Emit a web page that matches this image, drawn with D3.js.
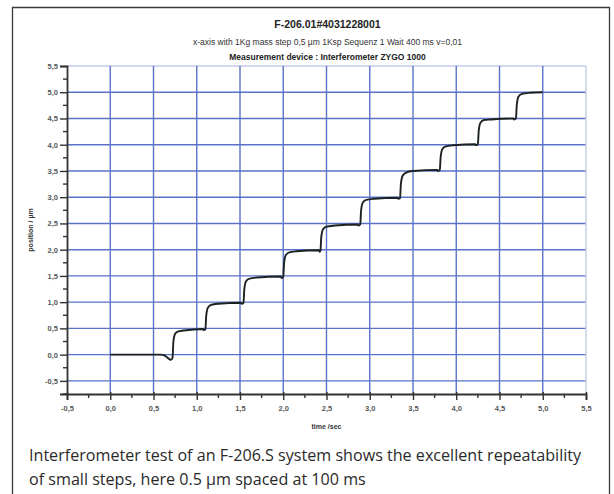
<!DOCTYPE html>
<html>
<head>
<meta charset="utf-8">
<script src="https://cdn.jsdelivr.net/npm/d3@7"></script>
<style>
  body { margin: 0; background: #fff; }
  svg { display: block; }
</style>
</head>
<body>
<svg id="chart"></svg>
<script>
const titleText = "F-206.01#4031228001"
const subtitleText = "x-axis with 1Kg mass step 0,5 µm 1Ksp Sequenz 1 Wait 400 ms v=0,01"
const deviceText = "Measurement device : Interferometer ZYGO 1000"
const captionLines = [
  "Interferometer test of an F-206.S system shows the excellent repeatability",
  "of small steps, here 0.5 µm spaced at 100 ms"
]

const xTicks = [-0.5, 0, 0.5, 1, 1.5, 2, 2.5, 3, 3.5, 4, 4.5, 5, 5.5]
const yTicks = [-0.5, 0, 0.5, 1, 1.5, 2, 2.5, 3, 3.5, 4, 4.5, 5, 5.5]

const timeSec = [
  0.00, 0.58, 0.63, 0.68, 0.70, 0.72, 0.73, 0.75, 0.78, 0.85,
  1.07, 1.08, 1.10, 1.11, 1.13, 1.17, 1.25,
  1.51, 1.52, 1.54, 1.55, 1.57, 1.61, 1.70,
  1.97, 1.98, 2.00, 2.01, 2.03, 2.07, 2.15,
  2.41, 2.42, 2.43, 2.44, 2.46, 2.50, 2.60,
  2.86, 2.87, 2.89, 2.90, 2.92, 2.96, 3.05,
  3.32, 3.33, 3.35, 3.36, 3.38, 3.42, 3.50,
  3.78, 3.79, 3.81, 3.82, 3.84, 3.88, 3.97,
  4.22, 4.23, 4.25, 4.26, 4.28, 4.32, 4.40,
  4.66, 4.67, 4.69, 4.70, 4.72, 4.76, 4.85, 5.00
]
const positionUm = [
  0.00, 0.00, -0.02, -0.08, -0.10, -0.06, 0.25, 0.40, 0.44, 0.46,
  0.49, 0.47, 0.48, 0.75, 0.90, 0.95, 0.97,
  0.99, 0.97, 0.98, 1.25, 1.40, 1.45, 1.47,
  1.49, 1.46, 1.48, 1.75, 1.90, 1.95, 1.97,
  1.99, 1.96, 1.98, 2.25, 2.39, 2.44, 2.46,
  2.48, 2.46, 2.48, 2.75, 2.90, 2.95, 2.97,
  2.99, 2.97, 2.98, 3.25, 3.41, 3.47, 3.50,
  3.52, 3.50, 3.52, 3.77, 3.92, 3.97, 3.99,
  4.01, 3.99, 4.01, 4.27, 4.42, 4.47, 4.48,
  4.50, 4.48, 4.50, 4.76, 4.92, 4.97, 4.99, 5.00
]

drawChart()

function drawChart() {
  const width = 614
  const height = 494
  const plot = { left: 67, right: 586, top: 66, bottom: 394 }
  const font = 'Arial, "Liberation Sans", sans-serif'

  const svg = d3.select('#chart')
    .attr('width', width)
    .attr('height', height)

  const fmt = v => d3.format('.1f')(v).replace('.', ',').replace('−', '-')

  const x = d3.scaleLinear().domain([-0.5, 5.5]).range([plot.left, plot.right])
  const y = d3.scaleLinear().domain([-0.75, 5.5]).range([plot.bottom, plot.top])

  // outer frame (open at the bottom)
  svg.append('path')
    .attr('d', `M12.5,${height + 2} V7.5 H609.5 V${height + 2}`)
    .attr('fill', 'none')
    .attr('stroke', '#3a3a3a')
    .attr('stroke-width', 1.3)

  // grid
  const grid = svg.append('g')
  grid.selectAll('line.h')
    .data(yTicks)
    .enter()
    .append('line')
    .attr('x1', plot.left)
    .attr('x2', plot.right)
    .attr('y1', d => y(d))
    .attr('y2', d => y(d))
    .attr('stroke', d => d === 5.5 ? '#c3cbe9' : '#5b72c9')
    .attr('stroke-width', 1.4)

  grid.selectAll('line.v')
    .data(xTicks.filter(d => d > -0.5))
    .enter()
    .append('line')
    .attr('x1', d => x(d))
    .attr('x2', d => x(d))
    .attr('y1', plot.top)
    .attr('y2', plot.bottom)
    .attr('stroke', d => d === 5.5 ? '#c3cbe9' : '#5b72c9')
    .attr('stroke-width', 1.4)

  // trace
  const pts = timeSec.map((t, i) => [t, positionUm[i]])
  const line = d3.line()
    .x(d => x(d[0]))
    .y(d => y(d[1]))
    .curve(d3.curveMonotoneX)

  svg.append('path')
    .datum(pts)
    .attr('d', line)
    .attr('fill', 'none')
    .attr('stroke', '#1c2222')
    .attr('stroke-width', 1.9)
    .attr('stroke-linejoin', 'round')

  // y axis
  const yMinor = d3.range(-0.75, 5.5, 0.25).filter(v => Math.abs(v * 2 - Math.round(v * 2)) > 0.01)
  const yAxis = svg.append('g')
    .attr('transform', `translate(${plot.left},0)`)
    .call(d3.axisLeft(y).tickValues(yTicks).tickFormat(fmt).tickSize(7).tickPadding(2))
  yAxis.select('.domain').attr('stroke', '#333').attr('stroke-width', 1.8)
  yAxis.selectAll('.tick line').attr('stroke', '#333').attr('stroke-width', 1.4)
  yAxis.selectAll('text')
    .attr('fill', '#555')
    .style('font-family', font)
    .style('font-size', '7.5px')
    .style('font-weight', 'bold')
  yAxis.selectAll('.minor')
    .data(yMinor)
    .enter()
    .append('line')
    .attr('x1', -4)
    .attr('x2', 0)
    .attr('y1', d => y(d))
    .attr('y2', d => y(d))
    .attr('stroke', '#333')
    .attr('stroke-width', 1.4)

  // x axis
  const xMinor = d3.range(-0.25, 5.5, 0.5)
  const xAxis = svg.append('g')
    .attr('transform', `translate(0,${plot.bottom})`)
    .call(d3.axisBottom(x).tickValues(xTicks).tickFormat(fmt).tickSize(6).tickPadding(6))
  xAxis.select('.domain').attr('stroke', '#333').attr('stroke-width', 1.8)
  xAxis.selectAll('.tick line').attr('stroke', '#333').attr('stroke-width', 1.4).attr('y1', -2)
  xAxis.selectAll('text')
    .attr('fill', '#555')
    .style('font-family', font)
    .style('font-size', '7.5px')
    .style('font-weight', 'bold')
  xAxis.selectAll('.minor')
    .data(xMinor)
    .enter()
    .append('line')
    .attr('x1', d => x(d))
    .attr('x2', d => x(d))
    .attr('y1', 0)
    .attr('y2', 4)
    .attr('stroke', '#333')
    .attr('stroke-width', 1.4)

  // axis titles
  svg.append('text')
    .attr('x', (plot.left + plot.right) / 2)
    .attr('y', 429)
    .attr('text-anchor', 'middle')
    .style('font-family', font)
    .style('font-size', '7px')
    .style('font-weight', 'bold')
    .attr('fill', '#333')
    .text('time /sec')

  svg.append('text')
    .attr('transform', 'translate(33,230) rotate(-90)')
    .attr('text-anchor', 'middle')
    .style('font-family', font)
    .style('font-size', '7px')
    .style('font-weight', 'bold')
    .attr('fill', '#333')
    .text('position / µm')

  // titles
  const cx = (plot.left + plot.right) / 2 + 1
  svg.append('text')
    .attr('x', cx).attr('y', 28)
    .attr('text-anchor', 'middle')
    .style('font-family', font)
    .style('font-size', '10.5px')
    .style('font-weight', 'bold')
    .attr('fill', '#222')
    .text(titleText)

  svg.append('text')
    .attr('x', cx).attr('y', 45)
    .attr('text-anchor', 'middle')
    .style('font-family', font)
    .style('font-size', '8.5px')
    .attr('fill', '#333')
    .text(subtitleText)

  svg.append('text')
    .attr('x', cx).attr('y', 59.5)
    .attr('text-anchor', 'middle')
    .style('font-family', font)
    .style('font-size', '8.5px')
    .style('font-weight', 'bold')
    .attr('fill', '#222')
    .text(deviceText)

  // caption, sized so the first line spans the box like the original
  const caption = svg.append('g')
    .selectAll('text')
    .data(captionLines)
    .enter()
    .append('text')
    .attr('x', 29)
    .attr('y', (d, i) => 461 + i * 24)
    .style('font-family', '"Open Sans", sans-serif')
    .style('font-size', '15px')
    .attr('fill', '#2a2a2a')
    .text(d => d)
  const w = caption.nodes()[0].getComputedTextLength()
  caption.style('font-size', (15 * 553 / w).toFixed(2) + 'px')
}
</script>
</body>
</html>
